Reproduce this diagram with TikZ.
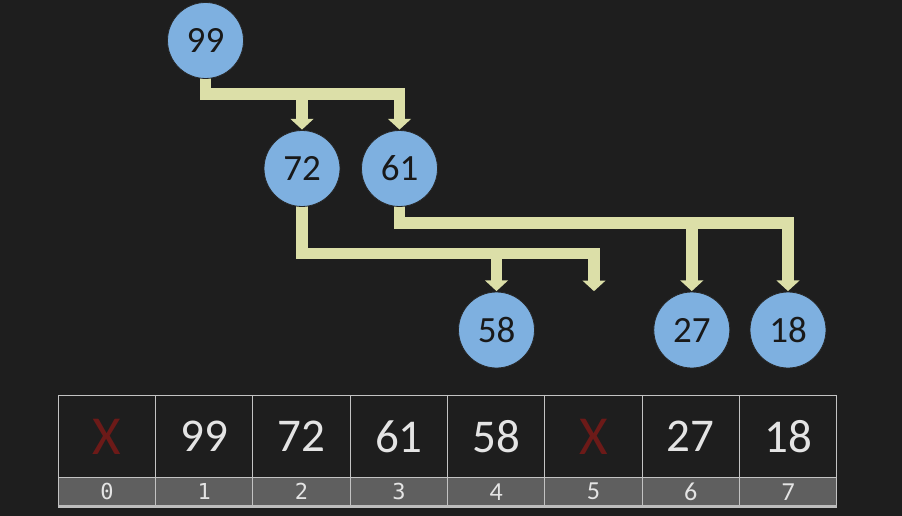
\documentclass[tikz,border=0pt]{standalone}
\usepackage{fontspec}
\setmainfont{Carlito}
\newfontfamily\monof{DejaVu Sans Mono}
\usetikzlibrary{arrows.meta}
\definecolor{bgc}{RGB}{30,30,30}
\definecolor{nodec}{RGB}{126,176,224}
\definecolor{arrc}{RGB}{220,223,168}
\definecolor{xred}{RGB}{108,26,24}
\definecolor{cellgray}{RGB}{95,95,95}
\definecolor{gridc}{RGB}{195,195,195}
\definecolor{txtc}{RGB}{228,228,228}
\pgfdeclarelayer{back}
\pgfdeclarelayer{bg}
\pgfsetlayers{back,bg,main}
\tikzset{
  heapnode/.style={circle, fill=nodec, draw=black!85, line width=0.8pt, minimum size=76pt, inner sep=0pt,
    font=\fontsize{37}{37}\selectfont, text=black!90},
  link/.style={draw=arrc, line width=11.7pt, line join=miter,
    -{Triangle[width=22.6pt,length=10.7pt]}},
  branch/.style={draw=arrc, line width=11.7pt, -{Triangle[width=22.6pt,length=10.7pt]}},
  valcell/.style={rectangle, draw=gridc, line width=1pt, fill=bgc, minimum width=97.3pt, minimum height=81.6pt,
    inner sep=0pt, text=txtc, font=\fontsize{47}{47}\selectfont},
  xcell/.style={valcell, text=xred, font=\fontsize{55}{55}\selectfont},
  idxcell/.style={rectangle, draw=gridc, line width=1pt, fill=cellgray, minimum width=97.3pt, minimum height=28.7pt,
    inner sep=0pt, text=txtc, font=\fontsize{26}{26}\selectfont},
  idxmono/.style={idxcell, font=\monof\fontsize{22}{22}\selectfont}
}
\begin{document}
\begin{tikzpicture}[x=1pt,y=-1pt]
\begin{pgfonlayer}{back}
\fill[bgc] (0,0) rectangle (902,516);
\end{pgfonlayer}
\useasboundingbox (0,0) rectangle (902,516);

% heap nodes
\node[heapnode] (n99) at (205.5,40.5) {99};
\node[heapnode] (n72) at (302,168.5) {72};
\node[heapnode] (n61) at (399.5,168.5) {61};
\node[heapnode] (n58) at (496.5,330) {58};
\node[heapnode] (n27) at (691.8,330) {27};
\node[heapnode] (n18) at (788,330) {18};
\coordinate (e5) at (594,291.2);
\coordinate (h99) at (205.5,94.2);
\coordinate (b72) at (302,94.2);
\coordinate (h72) at (302,253.5);
\coordinate (b58) at (496.5,253.5);
\coordinate (h61) at (399.5,223);
\coordinate (b27) at (691.8,223);

\begin{pgfonlayer}{bg}
\draw[link] (n99.center) -- (h99) -| ([yshift=0.5pt]n61.north);
\draw[branch] (b72) -- ([yshift=0.5pt]n72.north);
\draw[link] (n72.center) -- (h72) -| (e5);
\draw[branch] (b58) -- ([yshift=0.5pt]n58.north);
\draw[link] (n61.center) -- (h61) -| ([yshift=0.5pt]n18.north);
\draw[branch] (b27) -- ([yshift=0.5pt]n27.north);
\end{pgfonlayer}

% array
\node[xcell]   (v0) at (107.0,436.5) {X};
\node[valcell] (v1) at (204.3,436.5) {99};
\node[valcell] (v2) at (301.6,436.5) {72};
\node[valcell] (v3) at (398.9,436.5) {61};
\node[valcell] (v4) at (496.2,436.5) {58};
\node[xcell]   (v5) at (593.5,436.5) {X};
\node[valcell] (v6) at (690.8,436.5) {27};
\node[valcell] (v7) at (788.1,436.5) {18};

\node[idxmono] (i0) at (107.0,491.7) {0};
\node[idxmono] (i1) at (204.3,491.7) {1};
\node[idxmono] (i2) at (301.6,491.7) {2};
\node[idxmono] (i3) at (398.9,491.7) {3};
\node[idxcell] (i4) at (496.2,491.7) {4};
\node[idxcell] (i5) at (593.5,491.7) {5};
\node[idxcell] (i6) at (690.8,491.7) {6};
\node[idxcell] (i7) at (788.1,491.7) {7};

\draw[gridc!110, line width=2.6pt] (i0.south west) -- (i7.south east);
\end{tikzpicture}
\end{document}
